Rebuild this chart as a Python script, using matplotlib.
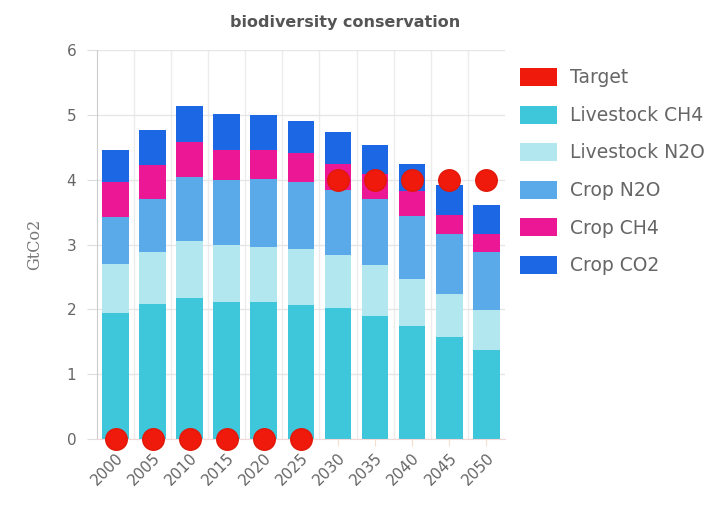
import matplotlib
matplotlib.use("Agg")
import matplotlib.pyplot as plt
from matplotlib.patches import Patch
import numpy as np

years = ["2000", "2005", "2010", "2015", "2020", "2025", "2030", "2035", "2040", "2045", "2050"]

livestock_ch4 = [1.95, 2.08, 2.17, 2.11, 2.11, 2.07, 2.02, 1.90, 1.75, 1.57, 1.38]
livestock_n2o = [0.75, 0.81, 0.89, 0.88, 0.86, 0.86, 0.82, 0.79, 0.72, 0.67, 0.61]
crop_n2o = [0.73, 0.81, 0.99, 1.00, 1.04, 1.03, 1.00, 1.02, 0.97, 0.92, 0.90]
crop_ch4 = [0.54, 0.53, 0.54, 0.47, 0.45, 0.45, 0.41, 0.38, 0.38, 0.30, 0.28]
crop_co2 = [0.49, 0.54, 0.55, 0.55, 0.54, 0.49, 0.49, 0.45, 0.42, 0.46, 0.44]
target = [0, 0, 0, 0, 0, 0, 4, 4, 4, 4, 4]

series = [
    ("Livestock CH4", livestock_ch4, "#3ec6da"),
    ("Livestock N2O", livestock_n2o, "#b2e7f0"),
    ("Crop N2O", crop_n2o, "#5aaaea"),
    ("Crop CH4", crop_ch4, "#ec1795"),
    ("Crop CO2", crop_co2, "#1c67e3"),
]
target_color = "#f01a0c"

fig = plt.figure(figsize=(7.16, 5.07), dpi=100)
ax = fig.add_axes([0.1355, 0.134, 0.5695, 0.767])

x = np.arange(len(years))
bottom = np.zeros(len(years))
for name, vals, col in series:
    ax.bar(x, vals, width=0.72, bottom=bottom, color=col, zorder=2)
    bottom += np.array(vals)

ax.plot(x, target, linestyle="none", marker="o", markersize=15.5,
        color=target_color, markeredgecolor="#e01808", zorder=4, clip_on=False)

ax.set_xlim(-0.5, len(years) - 0.5)
ax.set_ylim(0, 6)
ax.set_yticks(range(0, 7))
ax.set_xticks(x)
ax.set_xticklabels(years, rotation=45, ha="right", rotation_mode="anchor",
                   fontsize=11, color="#666666")
ax.tick_params(axis="y", labelsize=11, labelcolor="#666666", length=7,
               color="#dddddd", pad=8)
ax.tick_params(axis="x", length=5, color="#f5e0d0", pad=3)

# gridlines: horizontal at each unit, vertical at category boundaries
ax.yaxis.grid(True, color="#e6e6e6", linewidth=1, zorder=0)
ax.set_axisbelow(True)
for b in np.arange(0.5, len(years) - 0.5, 1):
    ax.axvline(b, color="#ececec", linewidth=1, zorder=0)
for s in ["top", "right"]:
    ax.spines[s].set_visible(False)
ax.spines["left"].set_color("#cccccc")
ax.spines["bottom"].set_color("#f0d8d8")

ax.set_ylabel("GtCo2", family="DejaVu Serif", fontsize=11.5, color="#777777", labelpad=17)
ax.set_title("biodiversity conservation", fontsize=11.5, fontweight="bold",
             color="#555555", pad=17, x=0.608)

handles = [Patch(facecolor=target_color, label="Target")]
handles += [Patch(facecolor=col, label=name) for name, _, col in series]
fig.legend(handles=handles, loc="upper left", bbox_to_anchor=(0.726, 0.866),
           frameon=False, fontsize=13.5, labelcolor="#666666",
           borderpad=0, borderaxespad=0,
           handlelength=2.0, handleheight=1.1, handletextpad=0.65,
           labelspacing=0.97)

fig.savefig("out.png", dpi=100, facecolor="white")
